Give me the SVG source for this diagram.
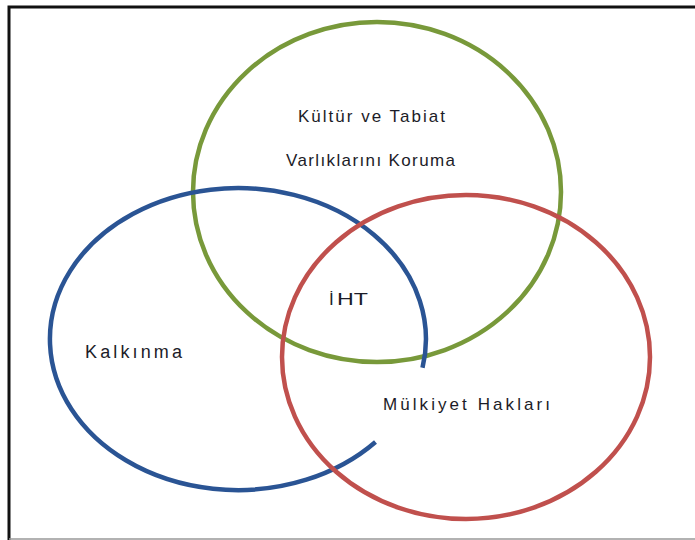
<svg xmlns="http://www.w3.org/2000/svg" width="695" height="540" viewBox="0 0 695 540">
<style>
.ring{fill:none;stroke-width:4.5}
.lbl{font-family:"Liberation Sans",Arial,sans-serif;font-size:17px;fill:#1c1c28}
</style>
<rect width="695" height="540" fill="#fff"/>
<g id="frame">
<path d="M9 540 V7 H695" fill="none" stroke="#111" stroke-width="3"/>
<line x1="9" y1="539" x2="695" y2="539" stroke="#999" stroke-width="1.5"/>
</g>
<g id="connectors">
<ellipse id="green" class="ring" cx="377" cy="192" rx="184" ry="170" stroke="#78993A"/>
<path id="blue" class="ring" stroke="#2A5494" d="M375.5 442 A188 151 0 1 1 422.5 367.8"/>
<ellipse id="red" class="ring" cx="466" cy="357" rx="184" ry="162" stroke="#C0504D"/>
</g>
<g id="node-kultur">
<text class="lbl" x="298" y="122" textLength="147" lengthAdjust="spacing">Kültür ve Tabiat</text>
<text class="lbl" x="286" y="166" textLength="169" lengthAdjust="spacing">Varlıklarını Koruma</text>
</g>
<g id="node-iht">
<text class="lbl" x="329" y="305">İ<tspan x="337" textLength="31" lengthAdjust="spacingAndGlyphs">HT</tspan></text>
</g>
<g id="node-kalkinma">
<text class="lbl" x="85" y="358" style="font-size:18px" textLength="97" lengthAdjust="spacing">Kalkınma</text>
</g>
<g id="node-mulkiyet">
<text class="lbl" x="383" y="410" textLength="167" lengthAdjust="spacing">Mülkiyet Hakları</text>
</g>
</svg>
